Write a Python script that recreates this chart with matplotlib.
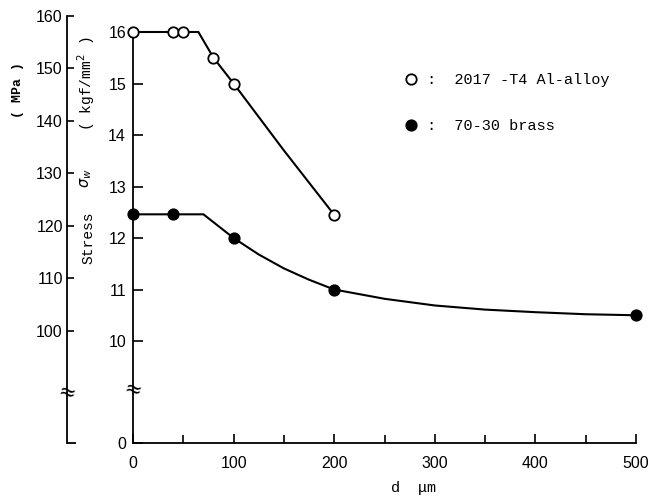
import matplotlib
matplotlib.use("Agg")
import matplotlib.pyplot as plt
from matplotlib.ticker import FixedLocator, MultipleLocator
from matplotlib.transforms import blended_transform_factory

# measured points, kgf/mm^2
al_d = [0, 40, 50, 80, 100, 200]
al_s = [16.0, 16.0, 16.0, 15.5, 15.0, 12.45]
brass_d = [0, 40, 100, 200, 500]
brass_s = [12.46, 12.46, 12.0, 11.0, 10.5]

# hand-drawn curves through the points
al_fit_d = [0, 65, 80, 100, 150, 200]
al_fit_s = [16.0, 16.0, 15.5, 15.0, 13.7, 12.45]
brass_fit_d = [0, 70, 100, 125, 150, 175, 200, 250, 300, 350, 400, 450, 500]
brass_fit_s = [12.46, 12.46, 12.0, 11.68, 11.41, 11.19, 11.0, 10.82, 10.69,
               10.61, 10.56, 10.52, 10.5]

kgf_ticks = [10, 11, 12, 13, 14, 15, 16]
mpa_ticks = [100, 110, 120, 130, 140, 150, 160]
zero_pos = 8.02   # where the "0" sits below the break
KGF = 9.80665

W, H = 648, 498
fig = plt.figure(figsize=(W / 100, H / 100), dpi=100)
ax = fig.add_axes([133 / W, 55 / H, 503 / W, 428 / H])
ax.set_xlim(0, 500)
ax.set_ylim(zero_pos, 16.33)

mono = "Liberation Mono"
sans = "Liberation Sans"

ax.plot(al_fit_d, al_fit_s, color="black", lw=1.5, zorder=2)
ax.plot(brass_fit_d, brass_fit_s, color="black", lw=1.5, zorder=2)
h1, = ax.plot(al_d, al_s, "o", ms=7.5, mfc="white", mec="black", mew=1.3,
              ls="none", zorder=3, clip_on=False)
h2, = ax.plot(brass_d, brass_s, "o", ms=7.8, mfc="black", mec="black",
              ls="none", zorder=3, clip_on=False)

for s in ["top", "right"]:
    ax.spines[s].set_visible(False)
ax.spines["left"].set_bounds(zero_pos, 16.0)
ax.spines["left"].set_linewidth(1.3)
ax.spines["bottom"].set_linewidth(1.3)

ax.xaxis.set_major_locator(MultipleLocator(100))
ax.xaxis.set_minor_locator(MultipleLocator(50))
ax.tick_params(axis="x", which="major", direction="in", length=6.5, width=1.2,
               pad=9, labelsize=11.5)
ax.tick_params(axis="x", which="minor", direction="in", length=5.5, width=1.2)
for lab in ax.get_xticklabels():
    lab.set_fontfamily(sans)

ax.yaxis.set_major_locator(FixedLocator([zero_pos] + kgf_ticks))
ax.set_yticklabels(["0"] + [str(v) for v in kgf_ticks], fontfamily=sans)
ax.tick_params(axis="y", direction="in", length=7, width=1.2, pad=5,
               labelsize=11.5)

# outer MPa scale, same y range expressed in kgf/mm^2
ax2 = fig.add_axes(ax.get_position())
ax2.set_ylim(zero_pos, 16.33)
ax2.patch.set_visible(False)
ax2.xaxis.set_visible(False)
for s in ["top", "right", "bottom"]:
    ax2.spines[s].set_visible(False)
ax2.spines["left"].set_position(("axes", -66 / 503))
ax2.spines["left"].set_bounds(zero_pos, 160 / KGF)
ax2.spines["left"].set_linewidth(1.3)
ax2.yaxis.set_major_locator(FixedLocator([v / KGF for v in mpa_ticks]))
ax2.set_yticklabels([str(v) for v in mpa_ticks], fontfamily=sans)
ax2.tick_params(axis="y", direction="in", length=5, width=1.2, pad=3,
                labelsize=11.5)
# foot at the bottom of the outer scale
foot_tr = blended_transform_factory(ax2.transAxes, ax2.transData)
ax2.plot([-66 / 503, -57 / 503], [zero_pos, zero_pos], transform=foot_tr,
         color="black", lw=1.3, clip_on=False, solid_capstyle="butt")

# axis break marks
fig.text(67 / W, 1 - 393 / H, "≈", ha="center", va="center", fontsize=15,
         rotation=-15)
fig.text(133 / W, 1 - 390 / H, "≈", ha="center", va="center", fontsize=15,
         rotation=-15)

# axis titles
fig.text(413 / W, 1 - 488 / H, r"d  $\mathregular{\mu}$m", ha="center",
         va="center", fontfamily=mono, fontsize=11)
fig.text(88 / W, 1 - 238 / H, "Stress", rotation=90, ha="center",
         va="center", fontfamily=mono, fontsize=10.5)
fig.text(86 / W, 1 - 178 / H, r"$\sigma_w$", rotation=90, ha="center",
         va="center", fontsize=10.5)
fig.text(86 / W, 1 - 84 / H, r"( kgf/mm$^2$ )", rotation=90, ha="center",
         va="center", fontfamily=mono, fontsize=10.5)
fig.text(18 / W, 1 - 90 / H, "( MPa )", rotation=90, ha="center",
         va="center", fontfamily=mono, fontsize=9.5, fontweight="bold")

leg = ax.legend([h1, h2], [":  2017 -T4 Al-alloy", ":  70-30 brass"],
                loc="upper left", bbox_to_anchor=(403 / W, 1 - 73 / H),
                bbox_transform=fig.transFigure, frameon=False, numpoints=1,
                handlelength=1.0, handletextpad=0.6, labelspacing=2.1,
                borderpad=0, borderaxespad=0,
                prop={"family": mono, "size": 11})

fig.savefig("out.png", dpi=100)
